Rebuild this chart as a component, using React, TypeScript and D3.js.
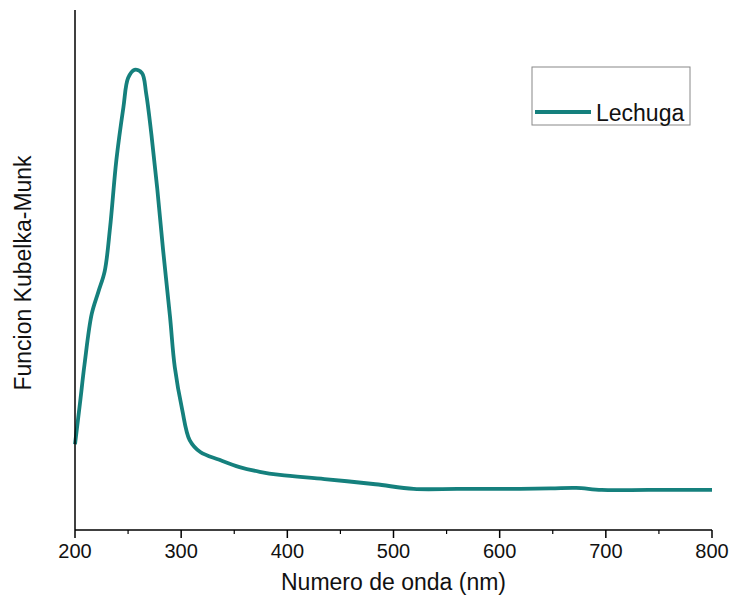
import React from 'react';
import * as d3 from 'd3';

// wavelength (nm) and Kubelka-Munk values
const wavelengths = [200, 204.7, 209, 215.7, 222, 228, 233, 239, 245.6, 250, 256, 263, 267, 272, 277.5, 283, 289.5, 294, 301, 308, 318, 336, 355, 374, 393, 435, 483, 519, 560, 604, 648, 672, 696, 740, 800];
const kmValues = [0.165, 0.244, 0.319, 0.415, 0.458, 0.498, 0.581, 0.712, 0.813, 0.869, 0.885, 0.879, 0.84, 0.76, 0.656, 0.538, 0.41, 0.313, 0.231, 0.173, 0.15, 0.135, 0.121, 0.112, 0.106, 0.098, 0.088, 0.079, 0.079, 0.079, 0.08, 0.081, 0.077, 0.077, 0.077];
const majorTicks = [200, 300, 400, 500, 600, 700, 800];
const minorTicks = [250, 350, 450, 550, 650, 750];
const seriesName = 'Lechuga';

const W = 729;
const H = 605;
const margin = { top: 10, right: 17, bottom: 75, left: 75 };
const color = '#15807d';
const font = '"Liberation Sans", Arial, sans-serif';

export default function App() {
  const x = d3.scaleLinear().domain([200, 800]).range([margin.left, W - margin.right]);
  const y = d3.scaleLinear().domain([0, 1]).range([H - margin.bottom, margin.top]);
  const pts = wavelengths.map((w, i) => [w, kmValues[i]] as [number, number]);
  const line = d3.line<[number, number]>()
    .x(d => x(d[0]))
    .y(d => y(d[1]))
    .curve(d3.curveCatmullRom.alpha(0.5));
  const y0 = y(0);

  return (
    <svg width={W} height={H} style={{ position: 'absolute', left: 0, top: 0, background: '#fff' }}>
      <path d={line(pts) || ''} fill="none" stroke={color} strokeWidth={3.8} strokeLinejoin="round" />

      {/* axes */}
      <line x1={x(200)} x2={x(200)} y1={margin.top} y2={y0} stroke="#000" strokeWidth={1.5} />
      <line x1={x(200)} x2={x(800)} y1={y0} y2={y0} stroke="#000" strokeWidth={1.5} />
      {majorTicks.map(t => (
        <g key={t}>
          <line x1={x(t)} x2={x(t)} y1={y0} y2={y0 + 8} stroke="#000" strokeWidth={1.5} />
          <text x={x(t)} y={y0 + 28} textAnchor="middle" fontFamily={font} fontSize={20} fill="#111">{t}</text>
        </g>
      ))}
      {minorTicks.map(t => (
        <line key={t} x1={x(t)} x2={x(t)} y1={y0} y2={y0 + 4} stroke="#000" strokeWidth={1.2} />
      ))}

      <text x={(x(200) + x(800)) / 2} y={y0 + 60} textAnchor="middle" fontFamily={font} fontSize={23} fill="#111">Numero de onda (nm)</text>
      <text transform={`translate(31,${(margin.top + y0) / 2 + 3}) rotate(-90)`} textAnchor="middle" fontFamily={font} fontSize={23} fill="#111">Funcion Kubelka-Munk</text>

      {/* legend */}
      <rect x={532} y={67} width={158} height={58} fill="#fff" stroke="#888" strokeWidth={1} />
      <line x1={535} x2={591} y1={112} y2={112} stroke={color} strokeWidth={3.8} />
      <text x={596} y={121} fontFamily={font} fontSize={23} fill="#111">{seriesName}</text>
    </svg>
  );
}
